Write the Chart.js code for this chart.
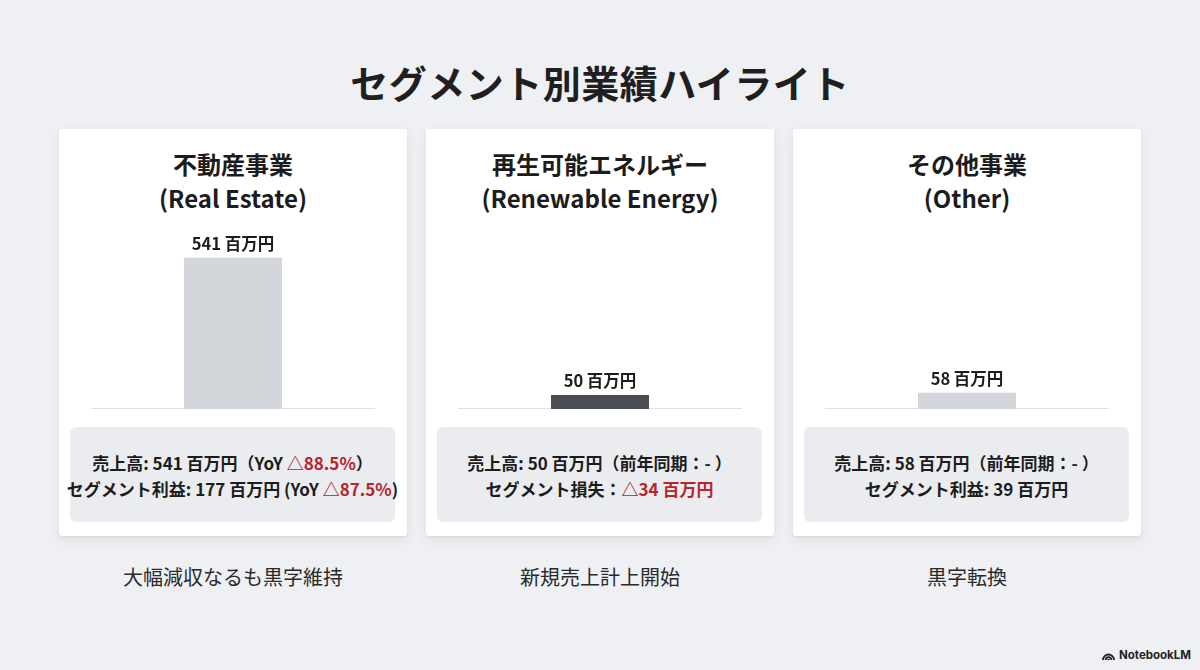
<!DOCTYPE html>
<html lang="ja">
<head>
<meta charset="utf-8">
<script src="https://cdn.jsdelivr.net/npm/chart.js@4.4.1/dist/chart.umd.min.js"></script>
<style>
  html, body { margin:0; padding:0; }
  body { width:1200px; height:670px; background:#eef0f3; position:relative; overflow:hidden;
         font-family:"Noto Sans CJK JP","Noto Sans",sans-serif; color:#1f1f1f; }
  #title { position:absolute; left:0; width:1200px; top:56px; text-align:center;
           font-size:38px; font-weight:700; line-height:52px; letter-spacing:0.5px; }
  .card { position:absolute; top:129px; width:348px; height:407px; background:#fff;
          border-radius:3px; box-shadow:0 4px 12px rgba(0,0,0,0.08), 0 1px 2px rgba(0,0,0,0.05); }
  .ctitle { position:absolute; left:0; right:0; top:18px; text-align:center; font-size:24px;
            font-weight:700; line-height:34px; color:#1c1c1c; }
  .card canvas { position:absolute; left:32px; top:76px; }
  .info { position:absolute; left:11px; right:12px; top:298px; height:95px; background:#eaecef;
          border-radius:6px; }
  .info .lines { position:absolute; left:-20px; right:-20px; top:23px; text-align:center;
                 font-size:17px; font-weight:700; line-height:26px; white-space:nowrap; color:#1c1c1c; }
  .red { color:#b3262d; }
  .caption { position:absolute; top:563px; width:348px; text-align:center; font-size:20px;
             line-height:28px; color:#2a2a2a; }
  #brand { position:absolute; right:9px; top:648px; font-family:"Inter","Noto Sans",sans-serif;
           font-size:11.5px; font-weight:700; color:#222; display:flex; align-items:center; gap:4px; }
</style>
</head>
<body>
<div id="title">セグメント別業績ハイライト</div>
<div id="cards"></div>
<div id="brand"><svg width="13" height="10" viewBox="0 0 13 10"><path d="M1 10 A5.5 5.5 0 0 1 12 10" fill="none" stroke="#222" stroke-width="1.8"/><path d="M3.6 10 A2.9 2.9 0 0 1 9.4 10" fill="none" stroke="#222" stroke-width="1.6"/><path d="M5.8 10 A0.7 0.7 0 0 1 7.2 10" fill="none" stroke="#222" stroke-width="1.3"/></svg>NotebookLM</div>
<script>
// ---- data ----
const segmentsJa = ['不動産事業', '再生可能エネルギー', 'その他事業'];
const segmentsEn = ['Real Estate', 'Renewable Energy', 'Other'];
const sales = [541, 50, 58];                 // 百万円
const salesYoY = ['△88.5%', null, null];
const profitLabel = ['セグメント利益', 'セグメント損失', 'セグメント利益'];
const profitText = ['177', '△34', '39'];     // 百万円
const profitYoY = ['△87.5%', null, null];
const captions = ['大幅減収なるも黒字維持', '新規売上計上開始', '黒字転換'];
const barColors = ['#d3d6da', '#4a4e54', '#d3d6da'];
const unit = '百万円';
const yMax = 730;

// ---- layout ----
const cardLefts = [59, 426, 793];
const cardsEl = document.getElementById('cards');

function line1(i) {
  if (salesYoY[i]) return `売上高: ${sales[i]} ${unit}（YoY <span class="red">${salesYoY[i]}</span>）`;
  return `売上高: ${sales[i]} ${unit}（前年同期：- ）`;
}
function line2(i) {
  if (profitYoY[i]) return `${profitLabel[i]}: ${profitText[i]} ${unit} (YoY <span class="red">${profitYoY[i]}</span>)`;
  if (profitText[i].startsWith('△')) return `${profitLabel[i]}：<span class="red">${profitText[i]} ${unit}</span>`;
  return `${profitLabel[i]}: ${profitText[i]} ${unit}`;
}

const baselinePlugin = {
  id: 'baseline',
  beforeDatasetsDraw(chart) {
    const ctx = chart.ctx, a = chart.chartArea;
    const y = chart.scales.y.getPixelForValue(0);
    ctx.save();
    ctx.strokeStyle = '#d6d9dd';
    ctx.lineWidth = 1.5;
    ctx.beginPath(); ctx.moveTo(a.left, y); ctx.lineTo(a.right, y); ctx.stroke();
    ctx.restore();
  }
};
const valueLabelPlugin = {
  id: 'valueLabel',
  afterDatasetsDraw(chart) {
    const ctx = chart.ctx;
    const meta = chart.getDatasetMeta(0);
    ctx.save();
    ctx.font = '700 16.5px "Noto Sans CJK JP", sans-serif';
    ctx.fillStyle = '#1c1c1c';
    ctx.textAlign = 'center';
    ctx.textBaseline = 'middle';
    meta.data.forEach((bar, k) => {
      const v = chart.data.datasets[0].data[k];
      ctx.fillText(`${v} ${unit}`, bar.x, bar.y - 14);
    });
    ctx.restore();
  }
};

segmentsJa.forEach((name, i) => {
  const card = document.createElement('div');
  card.className = 'card';
  card.style.left = cardLefts[i] + 'px';
  card.innerHTML = `<div class="ctitle">${name}<br>(${segmentsEn[i]})</div>
    <canvas width="284" height="204"></canvas>
    <div class="info"><div class="lines">${line1(i)}<br>${line2(i)}</div></div>`;
  cardsEl.appendChild(card);
  const cap = document.createElement('div');
  cap.className = 'caption';
  cap.style.left = cardLefts[i] + 'px';
  cap.textContent = captions[i];
  document.body.appendChild(cap);

  new Chart(card.querySelector('canvas'), {
    type: 'bar',
    data: {
      labels: [name],
      datasets: [{ data: [sales[i]], backgroundColor: barColors[i], borderWidth: 0,
                   categoryPercentage: 1, barPercentage: 0.345 }]
    },
    options: {
      responsive: false,
      animation: false,
      layout: { padding: 0 },
      plugins: { legend: { display: false }, tooltip: { enabled: false } },
      scales: {
        x: { display: false },
        y: { display: false, min: 0, max: yMax }
      }
    },
    plugins: [baselinePlugin, valueLabelPlugin]
  });
});
</script>
</body>
</html>
